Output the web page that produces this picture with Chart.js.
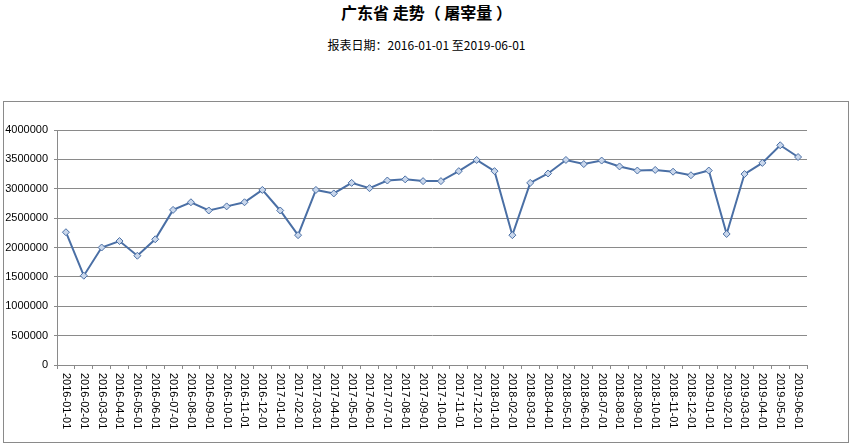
<!DOCTYPE html>
<html lang="zh-CN">
<head>
  <meta charset="UTF-8" />
  <title>广东省 走势（屠宰量）</title>
  <script src="https://cdn.jsdelivr.net/npm/chart.js"></script>
  <style>
    * { margin: 0; padding: 0; box-sizing: border-box; }
    body {
      width: 853px;
      height: 447px;
      background: #fff;
      position: relative;
      overflow: hidden;
      font-family: 'Noto Sans CJK SC', sans-serif;
    }
    .titulo {
      position: absolute;
      left: 0; width: 853px;
      top: 0;
      text-align: center;
      font-size: 16px;
      font-weight: bold;
      line-height: 24px;
      color: #000;
    }
    .subtitulo {
      position: absolute;
      left: 0; width: 853px;
      top: 36px;
      text-align: center;
      font-size: 12px;
      line-height: 18px;
      color: #000;
    }
    .caixa {
      position: absolute;
      left: 3px;
      top: 101px;
      width: 846px;
      height: 342px;
      border: 1px solid #8a8a8a;
    }
  </style>
</head>
<body>
  <div class="titulo">广东省 走势（ 屠宰量 ）</div>
  <div class="subtitulo">报表日期：2016-01-01 至2019-06-01</div>
  <div class="caixa"><canvas id="grafico"></canvas></div>

  <script>
    const meses = [
      '2016-01-01', '2016-02-01', '2016-03-01', '2016-04-01', '2016-05-01', '2016-06-01',
      '2016-07-01', '2016-08-01', '2016-09-01', '2016-10-01', '2016-11-01', '2016-12-01',
      '2017-01-01', '2017-02-01', '2017-03-01', '2017-04-01', '2017-05-01', '2017-06-01',
      '2017-07-01', '2017-08-01', '2017-09-01', '2017-10-01', '2017-11-01', '2017-12-01',
      '2018-01-01', '2018-02-01', '2018-03-01', '2018-04-01', '2018-05-01', '2018-06-01',
      '2018-07-01', '2018-08-01', '2018-09-01', '2018-10-01', '2018-11-01', '2018-12-01',
      '2019-01-01', '2019-02-01', '2019-03-01', '2019-04-01', '2019-05-01', '2019-06-01'
    ];
    const abate = [
      2260000, 1520000, 2000000, 2110000, 1860000, 2140000,
      2640000, 2770000, 2630000, 2700000, 2770000, 2980000,
      2630000, 2210000, 2980000, 2920000, 3100000, 3010000,
      3140000, 3160000, 3130000, 3130000, 3300000, 3490000,
      3300000, 2210000, 3100000, 3260000, 3490000, 3420000,
      3480000, 3380000, 3310000, 3320000, 3290000, 3230000,
      3310000, 2230000, 3250000, 3440000, 3740000, 3540000
    ];
    const yMin = 0;
    const yMax = 4000000;
    const yPasso = 500000;

    const cinza = '#8a8a8a';
    const fonteEixo = { family: "'Liberation Sans', Arial, sans-serif", size: 11 };

    // rótulos do eixo x girados no sentido horário
    const rotulosX = {
      id: 'rotulosX',
      afterDraw(chart) {
        const eixo = chart.scales.x;
        const ctx = chart.ctx;
        ctx.save();
        ctx.fillStyle = '#000';
        ctx.font = '11px ' + fonteEixo.family;
        ctx.textAlign = 'left';
        ctx.textBaseline = 'middle';
        eixo.ticks.forEach((t, i) => {
          const x = eixo.getPixelForTick(i);
          ctx.save();
          ctx.translate(x, eixo.top + 8);
          ctx.rotate(Math.PI / 2);
          ctx.fillText(meses[i], 0, 0);
          ctx.restore();
        });
        ctx.restore();
      }
    };

    new Chart(document.getElementById('grafico'), {
      type: 'line',
      data: {
        labels: meses,
        datasets: [{
          label: '屠宰量',
          data: abate,
          borderColor: '#4a6fa5',
          borderWidth: 2,
          pointStyle: 'rectRot',
          pointRadius: 3.5,
          pointBackgroundColor: '#c9d7ec',
          pointBorderColor: '#4a6fa5',
          pointBorderWidth: 1,
          tension: 0,
          fill: false
        }]
      },
      options: {
        responsive: true,
        maintainAspectRatio: false,
        animation: false,
        layout: { padding: { top: 28, right: 41, left: 0, bottom: 0 } },
        plugins: {
          legend: { display: false },
          tooltip: { enabled: false }
        },
        scales: {
          x: {
            offset: true,
            afterFit(s) { s.height = 77; },
            grid: {
              offset: true,
              drawOnChartArea: false,
              drawTicks: true,
              tickLength: 4,
              color: cinza
            },
            border: { color: cinza, width: 1 },
            ticks: { display: false, autoSkip: false }
          },
          y: {
            min: yMin,
            max: yMax,
            afterFit(s) { s.width = 53; },
            grid: { color: cinza, tickLength: 3, lineWidth: 1 },
            border: { color: cinza, width: 1 },
            ticks: {
              stepSize: yPasso,
              color: '#000',
              font: fonteEixo,
              padding: 6,
              callback: (v) => String(v)
            }
          }
        }
      },
      plugins: [rotulosX]
    });
  </script>
</body>
</html>
